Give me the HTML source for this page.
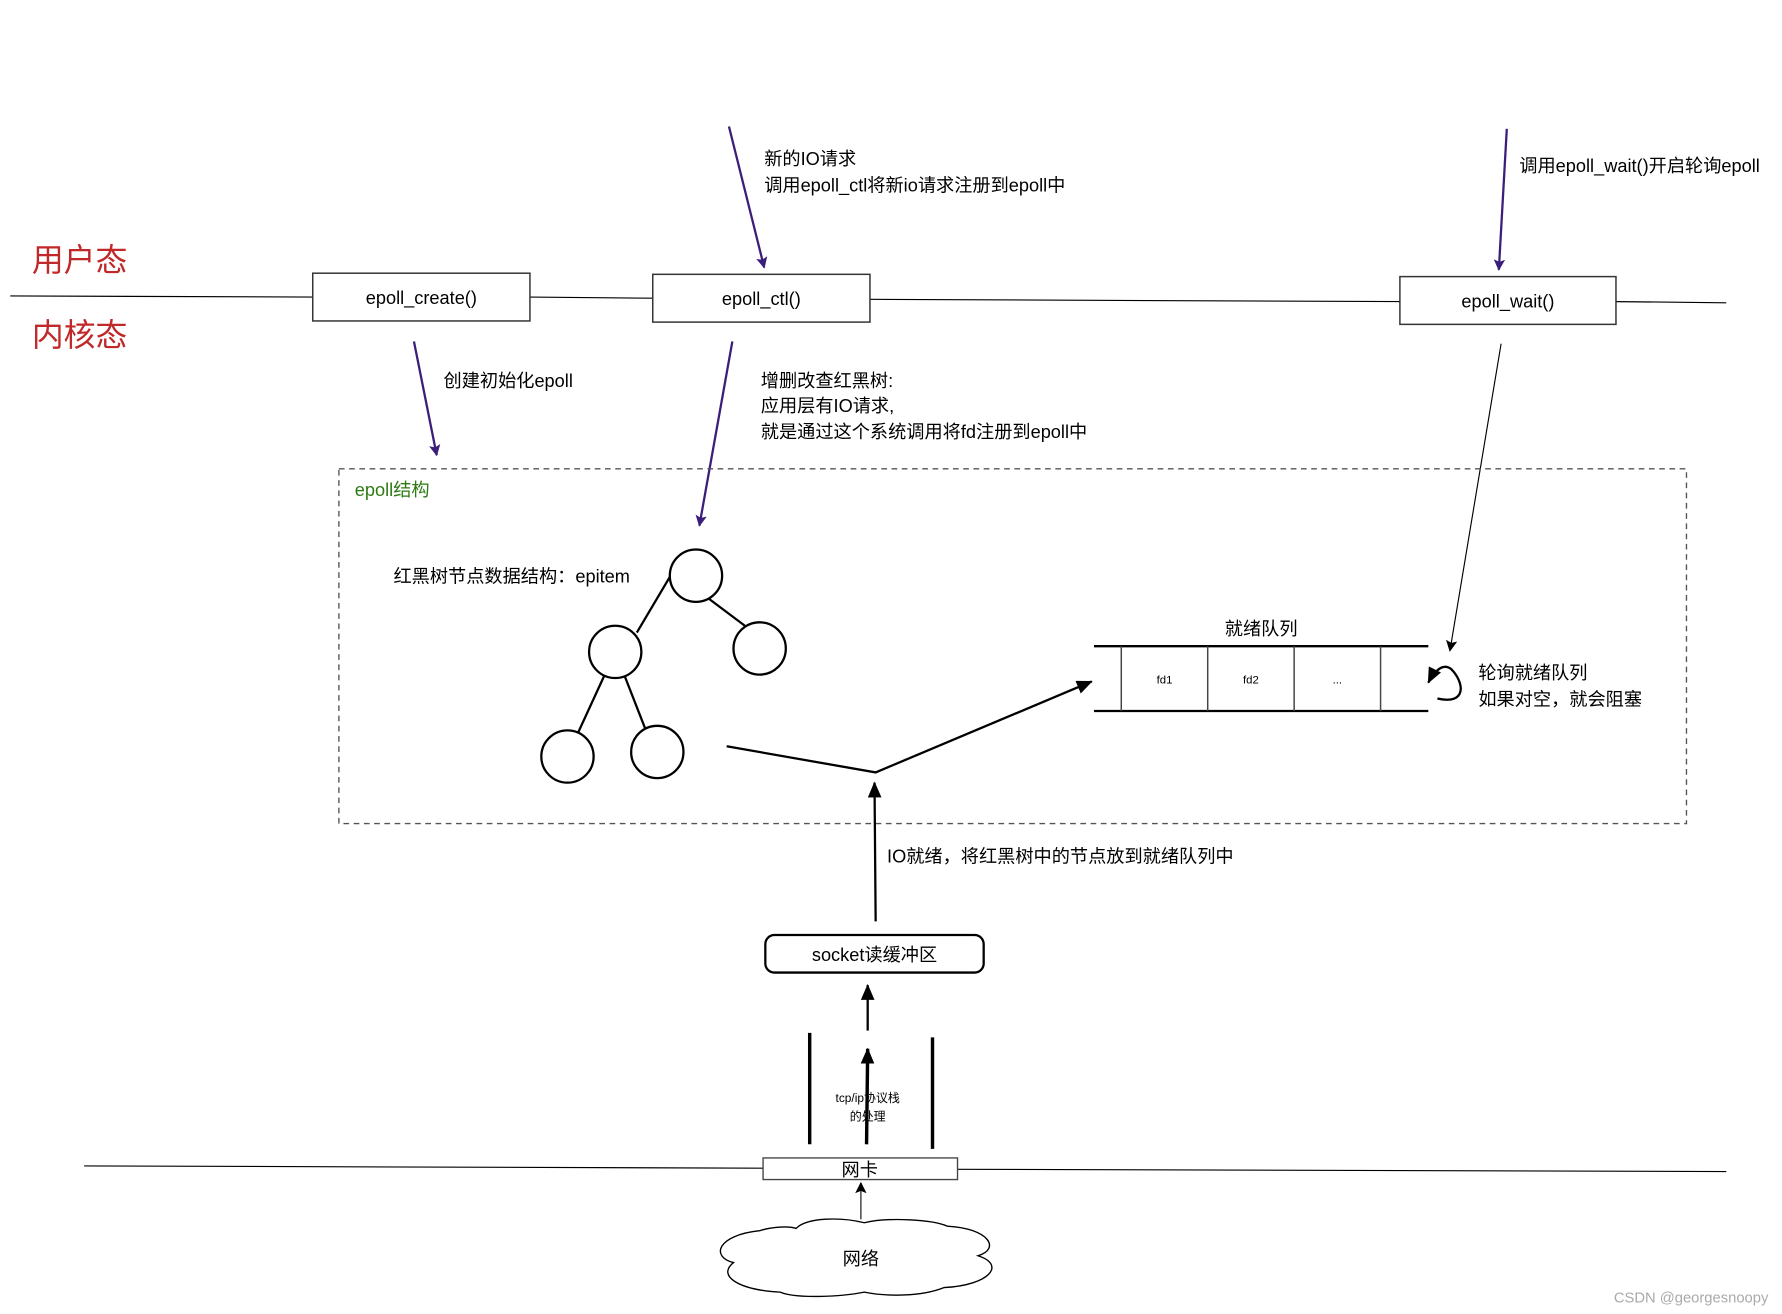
<!DOCTYPE html>
<html><head><meta charset="utf-8"><style>
html,body{margin:0;padding:0;background:#fff;}
svg{display:block;}
text{font-family:"Liberation Sans","Noto Sans CJK SC",sans-serif;fill:#000;}
</style></head><body>
<svg width="1782" height="1314" viewBox="0 0 1567 1155" xmlns="http://www.w3.org/2000/svg">
<defs>
<marker id="pa" markerWidth="10" markerHeight="10" refX="9" refY="5" orient="auto" markerUnits="userSpaceOnUse"><path d="M0,0 L10,5 L0,10 L2,5 z" fill="#3b1e7a"/></marker>
<marker id="ba" markerWidth="10" markerHeight="10" refX="9" refY="5" orient="auto" markerUnits="userSpaceOnUse"><path d="M0,0 L10,5 L0,10 L2,5 z" fill="#000"/></marker>
<marker id="bb" markerWidth="14" markerHeight="12" refX="13" refY="6" orient="auto" markerUnits="userSpaceOnUse"><path d="M0,0 L14,6 L0,12 z" fill="#000"/></marker>
</defs>

<text x="28" y="238" font-size="28" style="fill:#c0282a">用户态</text>
<text x="28" y="304" font-size="28" style="fill:#c0282a">内核态</text>

<line x1="9" y1="260" x2="275" y2="261" stroke="#000" stroke-width="1"/>
<line x1="466" y1="261" x2="574" y2="262" stroke="#000" stroke-width="1"/>
<line x1="765" y1="263" x2="1231" y2="265" stroke="#000" stroke-width="1"/>
<line x1="1421" y1="265" x2="1518" y2="266" stroke="#000" stroke-width="1"/>

<rect x="275" y="240" width="191" height="42" fill="#fff" stroke="#333" stroke-width="1.3"/>
<text x="370.5" y="267" font-size="16" text-anchor="middle">epoll_create()</text>
<rect x="574" y="241" width="191" height="42" fill="#fff" stroke="#333" stroke-width="1.3"/>
<text x="669.5" y="268" font-size="16" text-anchor="middle">epoll_ctl()</text>
<rect x="1231" y="243" width="190" height="42" fill="#fff" stroke="#333" stroke-width="1.3"/>
<text x="1326" y="270" font-size="16" text-anchor="middle">epoll_wait()</text>

<line x1="641" y1="111" x2="672" y2="235" stroke="#3b1e7a" stroke-width="2" marker-end="url(#pa)"/>
<text x="672" y="145" font-size="16">新的IO请求</text>
<text x="672" y="168" font-size="16">调用epoll_ctl将新io请求注册到epoll中</text>
<line x1="1325" y1="113" x2="1318" y2="237" stroke="#3b1e7a" stroke-width="2" marker-end="url(#pa)"/>
<text x="1336" y="151" font-size="16">调用epoll_wait()开启轮询epoll</text>
<line x1="364" y1="300" x2="384" y2="400" stroke="#3b1e7a" stroke-width="2" marker-end="url(#pa)"/>
<text x="390" y="340" font-size="16">创建初始化epoll</text>
<line x1="644" y1="300" x2="615" y2="462" stroke="#3b1e7a" stroke-width="2" marker-end="url(#pa)"/>
<text x="669" y="340" font-size="16">增删改查红黑树:</text>
<text x="669" y="362" font-size="16">应用层有IO请求,</text>
<text x="669" y="385" font-size="16">就是通过这个系统调用将fd注册到epoll中</text>
<line x1="1320" y1="302" x2="1275" y2="572" stroke="#000" stroke-width="1" marker-end="url(#ba)"/>

<rect x="298" y="412" width="1185" height="312" fill="none" stroke="#555" stroke-width="1.2" stroke-dasharray="5,4"/>
<text x="312" y="436" font-size="16" style="fill:#2d7a12">epoll结构</text>
<text x="346" y="512" font-size="16">红黑树节点数据结构：epitem</text>

<g stroke="#000" stroke-width="2" fill="#fff">
<line x1="595" y1="497" x2="560" y2="556"/>
<line x1="615" y1="520" x2="655" y2="550"/>
<line x1="541" y1="573" x2="501" y2="660"/>
<line x1="541" y1="573" x2="575" y2="660"/>
<circle cx="612" cy="506" r="23"/>
<circle cx="541" cy="573" r="23"/>
<circle cx="668" cy="570" r="23"/>
<circle cx="499" cy="665" r="23"/>
<circle cx="578" cy="661" r="23"/>
</g>

<text x="1109" y="558" font-size="16" text-anchor="middle">就绪队列</text>
<line x1="962" y1="568" x2="1256" y2="568" stroke="#000" stroke-width="2"/>
<line x1="962" y1="625" x2="1256" y2="625" stroke="#000" stroke-width="2"/>
<g stroke="#444" stroke-width="1.3">
<line x1="986" y1="568" x2="986" y2="625"/>
<line x1="1062" y1="568" x2="1062" y2="625"/>
<line x1="1138" y1="568" x2="1138" y2="625"/>
<line x1="1214" y1="568" x2="1214" y2="625"/>
</g>
<text x="1024" y="601" font-size="10" text-anchor="middle">fd1</text>
<text x="1100" y="601" font-size="10" text-anchor="middle">fd2</text>
<text x="1176" y="601" font-size="10" text-anchor="middle">...</text>
<path d="M1264,614 C1290,620 1288,600 1276,588 C1268,582 1260,592 1256,600" fill="none" stroke="#000" stroke-width="2" marker-end="url(#bb)"/>
<text x="1300" y="597" font-size="16">轮询就绪队列</text>
<text x="1300" y="620" font-size="16">如果对空，就会阻塞</text>

<polyline points="639,656 770,679 960,599" fill="none" stroke="#000" stroke-width="2" marker-end="url(#bb)"/>
<line x1="770" y1="810" x2="769" y2="688" stroke="#000" stroke-width="2" marker-end="url(#bb)"/>
<text x="780" y="758" font-size="16">IO就绪，将红黑树中的节点放到就绪队列中</text>

<rect x="673" y="822" width="192" height="33" rx="8" fill="#fff" stroke="#000" stroke-width="2"/>
<text x="769" y="845" font-size="16" text-anchor="middle">socket读缓冲区</text>

<line x1="763" y1="906" x2="763" y2="866" stroke="#000" stroke-width="2" marker-end="url(#bb)"/>
<line x1="712" y1="908" x2="712" y2="1006" stroke="#000" stroke-width="3"/>
<line x1="820" y1="912" x2="820" y2="1010" stroke="#000" stroke-width="3"/>
<line x1="762" y1="1006" x2="763" y2="922" stroke="#000" stroke-width="3" marker-end="url(#bb)"/>
<text x="763" y="969" font-size="10.5" text-anchor="middle">tcp/ip协议栈</text>
<text x="763" y="985" font-size="10.5" text-anchor="middle">的处理</text>

<line x1="74" y1="1025" x2="671" y2="1027" stroke="#000" stroke-width="1"/>
<line x1="842" y1="1028" x2="1518" y2="1030" stroke="#000" stroke-width="1"/>
<rect x="671" y="1018" width="171" height="19" fill="#fff" stroke="#444" stroke-width="1.2"/>
<text x="756" y="1034" font-size="16" text-anchor="middle">网卡</text>

<line x1="757" y1="1072" x2="757" y2="1040" stroke="#444" stroke-width="1.3" marker-end="url(#ba)"/>
<path d="M700,1080 C710,1070 740,1070 760,1075 C780,1070 820,1072 833,1078 C870,1080 880,1098 860,1104 C885,1112 870,1130 830,1132 C810,1140 780,1140 760,1136 C740,1140 700,1142 686,1136 C650,1134 630,1122 645,1110 C625,1105 630,1086 668,1082 C680,1078 695,1078 700,1080 Z" fill="#fff" stroke="#000" stroke-width="1.2"/>
<text x="757" y="1112" font-size="16" text-anchor="middle">网络</text>

<text x="1555" y="1145" font-size="13" text-anchor="end" style="fill:#aaa">CSDN @georgesnoopy</text>
</svg>
</body></html>
